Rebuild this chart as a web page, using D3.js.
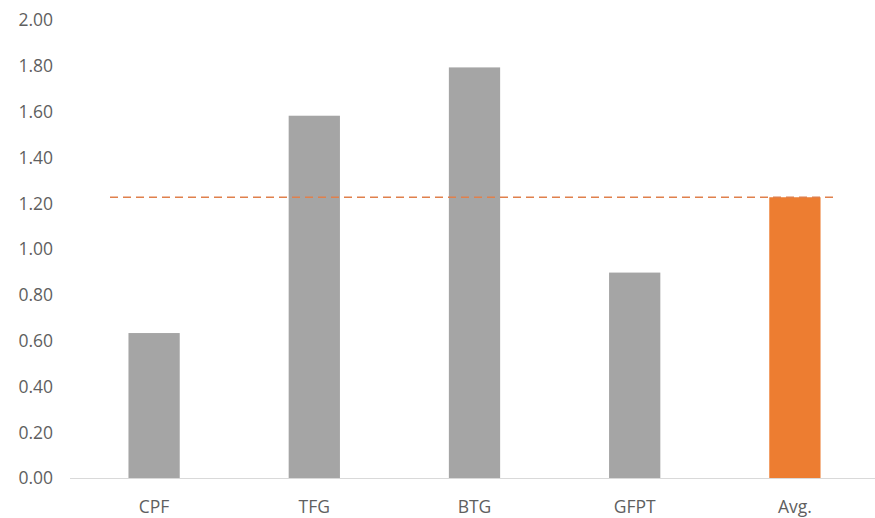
<!DOCTYPE html>
<html>
<head>
<meta charset="utf-8">
<script src="https://cdn.jsdelivr.net/npm/d3@7"></script>
<style>
  body { margin: 0; background: #fff; }
  text { font-family: "Open Sans", "Noto Sans", sans-serif; fill: #5f5f5f; }
</style>
</head>
<body>
<svg id="chart" width="875" height="518"></svg>
<script>
var categories = ["CPF", "TFG", "BTG", "GFPT", "Avg."];
var values = [0.633, 1.582, 1.793, 0.897, 1.226];
var avgLine = 1.226;
var yTicks = [0, 0.2, 0.4, 0.6, 0.8, 1.0, 1.2, 1.4, 1.6, 1.8, 2.0];

var svg = d3.select("#chart");
var plotLeft = 74, plotRight = 875, plotTop = 20, plotBottom = 478;

var x = d3.scaleBand().domain(categories).range([plotLeft, plotRight]).paddingInner(0.68).paddingOuter(0.34);
var y = d3.scaleLinear().domain([0, 2]).range([plotBottom, plotTop]);

// y labels
svg.append("g").selectAll("text")
  .data(yTicks).enter().append("text")
  .attr("x", 53)
  .attr("y", function(d){ return y(d); })
  .attr("dy", "0.36em")
  .attr("text-anchor", "end")
  .style("font-size", "17.5px")
  .text(function(d){ return d3.format(".2f")(d); });

// bars
svg.append("g").selectAll("rect")
  .data(values).enter().append("rect")
  .attr("x", function(d,i){ return x(categories[i]); })
  .attr("width", x.bandwidth())
  .attr("y", function(d){ return y(d); })
  .attr("height", function(d){ return y(0) - y(d); })
  .attr("fill", function(d,i){ return i == categories.length-1 ? "#ed7d31" : "#a5a5a5"; });

// axis line
svg.append("line")
  .attr("x1", 70).attr("x2", plotRight)
  .attr("y1", y(0)+0.5).attr("y2", y(0)+0.5)
  .attr("stroke", "#d9d9d9").attr("stroke-width", 1);

// x labels
svg.append("g").selectAll("text")
  .data(categories).enter().append("text")
  .attr("x", function(d){ return x(d) + x.bandwidth()/2; })
  .attr("y", 513)
  .attr("text-anchor", "middle")
  .style("font-size", "17.5px")
  .text(function(d){ return d; });

// average dashed line
svg.append("line")
  .attr("x1", 110).attr("x2", 834)
  .attr("y1", y(avgLine)).attr("y2", y(avgLine))
  .attr("stroke", "#e0804c").attr("stroke-width", 1.3)
  .attr("stroke-dasharray", "8,5");
</script>
</body>
</html>
